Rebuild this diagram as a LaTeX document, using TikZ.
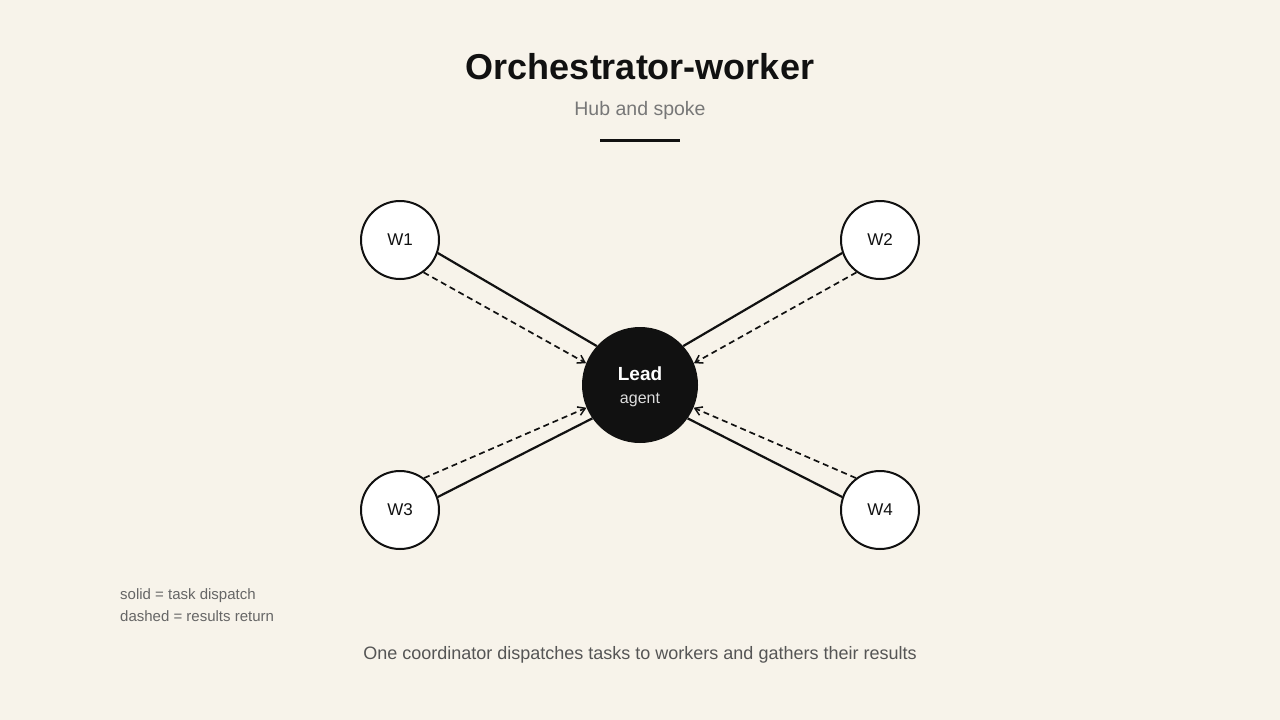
\documentclass[tikz,border=0pt]{standalone}
\usepackage{fontspec}
\setmainfont{Liberation Sans}
\usetikzlibrary{arrows.meta}
\definecolor{paper}{HTML}{F7F3EA}
\definecolor{ink}{HTML}{111111}
\definecolor{subgray}{HTML}{777777}
\definecolor{capgray}{HTML}{555555}
\definecolor{leggray}{HTML}{666666}
\definecolor{agentgray}{HTML}{DDDDDD}
\tikzset{
    worker/.style={circle,draw=ink,line width=2pt,fill=white,
                   minimum size=78pt,inner sep=0pt,text=ink,
                   font=\fontsize{17}{20}\selectfont},
    lead/.style={circle,fill=ink,minimum size=116pt,inner sep=0pt},
    label/.style={inner sep=0pt,anchor=base},
    dispatch/.style={draw=ink,line width=2.2pt},
    % results go back to the lead, dashed with an open tip
    result/.style={draw=ink,line width=1.7pt,dash pattern=on 6pt off 4pt,
                   -{Straight Barb[length=7pt,width=9pt,line width=1.5pt]}}
}

\begin{document}
\begin{tikzpicture}[x=1pt,y=-1pt]

  \fill[paper] (0,0) rectangle (1280,720);
  \useasboundingbox (0,0) rectangle (1280,720);

  \node[label,text=ink,font=\bfseries\fontsize{36}{40}\selectfont]
    (title) at (640,79) {Orchestrator-worker};
  \node[label,text=subgray,font=\fontsize{19.5}{22}\selectfont]
    (subtitle) at (640,115) {Hub and spoke};
  \draw[ink,line width=3pt] (600,140) -- (680,140);

  \node[lead] (lead) at (640,385) {};
  \node[label,text=white,font=\bfseries\fontsize{19}{22}\selectfont]
    (leadname) at (640,380) {Lead};
  \node[label,text=agentgray,font=\fontsize{16}{18}\selectfont]
    (leadrole) at (640,403) {agent};

  \node[worker] (w1) at (400,240) {W1};
  \node[worker] (w2) at (880,240) {W2};
  \node[worker] (w3) at (400,510) {W3};
  \node[worker] (w4) at (880,510) {W4};

  \draw[dispatch] (lead.138) -- (w1.-19);
  \draw[dispatch] (lead.42)  -- (w2.199);
  \draw[dispatch] (lead.215) -- (w3.19);
  \draw[dispatch] (lead.-35) -- (w4.161);

  \draw[result] (w1.-54) -- (lead.158);
  \draw[result] (w2.234) -- (lead.22);
  \draw[result] (w3.53)  -- (lead.203);
  \draw[result] (w4.127) -- (lead.-23);

  \node[label,anchor=base west,text=leggray,font=\fontsize{15}{18}\selectfont]
    (legsolid) at (120,599) {solid = task dispatch};
  \node[label,anchor=base west,text=leggray,font=\fontsize{15}{18}\selectfont]
    (legdashed) at (120,621) {dashed = results return};

  \node[label,text=capgray,font=\fontsize{18}{22}\selectfont]
    (caption) at (640,659)
    {One coordinator dispatches tasks to workers and gathers their results};

\end{tikzpicture}
\end{document}
